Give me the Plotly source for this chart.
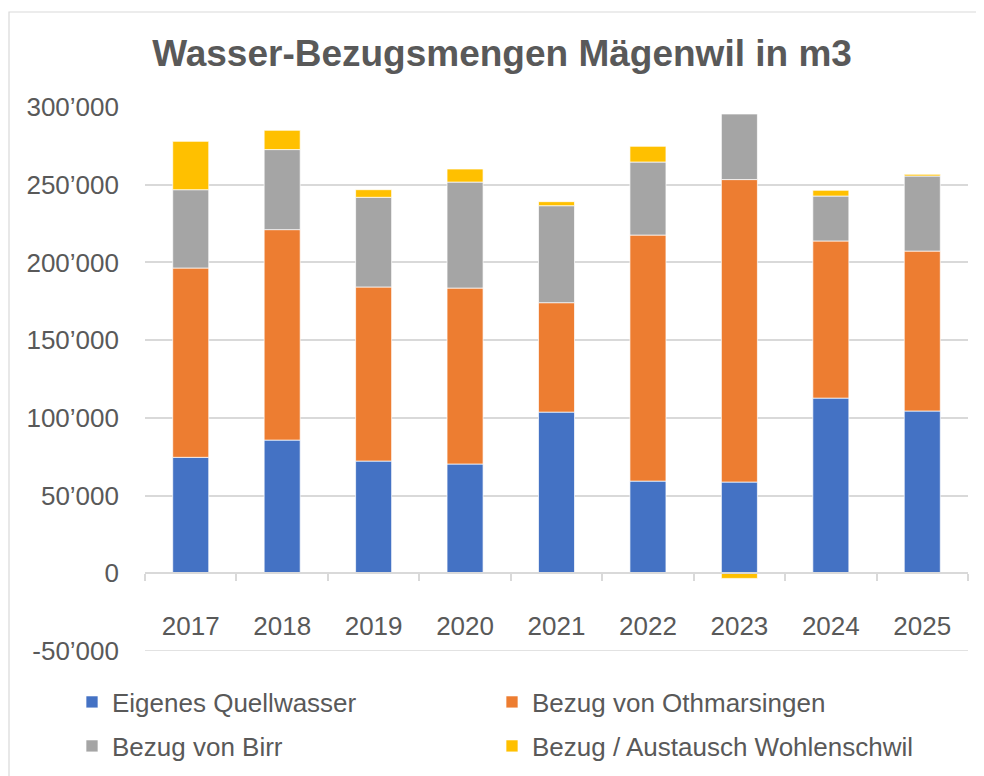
import plotly.graph_objects as go

years = ["2017", "2018", "2019", "2020", "2021", "2022", "2023", "2024", "2025"]
eigenes_quellwasser = [74600, 85700, 72200, 70300, 103700, 59300, 58700, 112700, 104400]
bezug_othmarsingen = [121800, 135400, 112000, 113200, 70400, 158300, 194600, 101100, 102900]
bezug_birr = [50400, 51500, 57700, 68200, 62400, 47000, 42200, 28900, 48300]
bezug_wohlenschwil = [31100, 12400, 4900, 8400, 2600, 10100, -3300, 3700, 1100]

series_names = ["Eigenes Quellwasser", "Bezug von Othmarsingen", "Bezug von Birr",
                "Bezug / Austausch Wohlenschwil"]
series_colors = ["#4472C4", "#ED7D31", "#A5A5A5", "#FFC000"]
series_legend = ["legend", "legend", "legend2", "legend2"]

y_tickvals = [-50000, 0, 50000, 100000, 150000, 200000, 250000, 300000]
y_ticktext = ["-50’000", "0", "50’000", "100’000", "150’000", "200’000", "250’000", "300’000"]
y_min, y_max = -50000, 300000

FONT = "Liberation Sans, Arial, sans-serif"
TXT = "#595959"
GRID = "#D9D9D9"

fig = go.Figure()
for name, vals, col, lg in zip(series_names,
                               [eigenes_quellwasser, bezug_othmarsingen, bezug_birr, bezug_wohlenschwil],
                               series_colors, series_legend):
    fig.add_trace(go.Bar(x=years, y=vals, name=name, legend=lg,
                         marker=dict(color=col, line=dict(color="rgba(255,255,255,0.7)", width=1))))

# page body has an 8px margin; figure is drawn at (8, 8)
OFF = 8
W, H = 984 - OFF, 776 - OFF
ml = 145 - OFF
mr = W - (968 - OFF)
mt = 107 - OFF
mb = H - (651 - OFF)
pw, ph = W - ml - mr, H - mt - mb

def px_to_paper_x(px):
    return (px - OFF - ml) / pw

def px_to_paper_y(py):
    return (H - mb - (py - OFF)) / ph

def px_to_cont_x(px):
    return (px - OFF) / W

def px_to_cont_y(py):
    return 1 - (py - OFF) / H

fig.update_layout(
    width=W, height=H,
    margin=dict(l=ml, r=mr, t=mt, b=mb, autoexpand=False),
    paper_bgcolor="white", plot_bgcolor="white",
    barmode="relative", bargap=0.606,
    font=dict(family=FONT, size=26, color=TXT),
    title=dict(text="<b>Wasser-Bezugsmengen Mägenwil in m3</b>",
               x=px_to_cont_x(502), xanchor="center", xref="container",
               y=px_to_cont_y(53), yanchor="middle", yref="container",
               font=dict(family=FONT, size=37, color=TXT)),
    xaxis=dict(type="category", range=[-0.5, len(years) - 0.5],
               anchor="free", position=(0 - y_min) / (y_max - y_min),
               showline=True, linecolor=GRID, linewidth=1.5,
               ticks="outside", tickson="boundaries", ticklen=7, tickcolor=GRID, tickwidth=1.5,
               ticklabelstandoff=30, showgrid=False, automargin=False,
               tickfont=dict(family=FONT, size=26, color=TXT)),
    yaxis=dict(range=[y_min, y_max], tickvals=y_tickvals, ticktext=y_ticktext,
               showgrid=True, gridcolor=GRID, gridwidth=1.5,
               zeroline=False, showline=False, ticks="", automargin=False,
               ticklabelstandoff=25,
               tickfont=dict(family=FONT, size=26, color=TXT)),
    legend=dict(orientation="h", x=px_to_paper_x(72), xanchor="left",
                y=px_to_paper_y(702), yanchor="middle",
                entrywidth=375, font=dict(family=FONT, size=26, color=TXT),
                bgcolor="rgba(0,0,0,0)", itemclick=False),
    legend2=dict(orientation="h", x=px_to_paper_x(72), xanchor="left",
                 y=px_to_paper_y(746), yanchor="middle",
                 entrywidth=375, font=dict(family=FONT, size=26, color=TXT),
                 bgcolor="rgba(0,0,0,0)", itemclick=False),
    showlegend=True,
    shapes=[
        dict(type="rect", xref="paper", yref="paper",
             x0=px_to_paper_x(9), x1=px_to_paper_x(1000),
             y0=px_to_paper_y(800), y1=px_to_paper_y(12),
             line=dict(color=GRID, width=1.2), fillcolor="rgba(0,0,0,0)", layer="below"),
        dict(type="line", xref="paper", yref="y", x0=0, x1=1, y0=y_min, y1=y_min,
             line=dict(color=GRID, width=1.5), layer="below"),
    ],
)

fig.write_html("out.html")
